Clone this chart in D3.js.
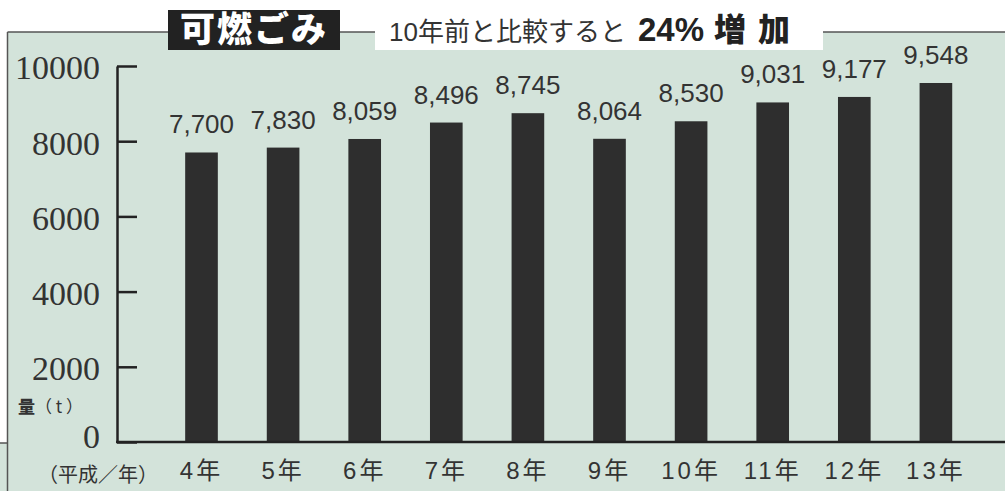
<!DOCTYPE html>
<html>
<head>
<meta charset="utf-8">
<script src="https://cdn.jsdelivr.net/npm/d3@7"></script>
<style>
  body { margin: 0; background: #fff; }
  svg { display: block; }
</style>
</head>
<body>
<div id="chart"></div>
<script>
// data
let years = ["4年", "5年", "6年", "7年", "8年", "9年", "10年", "11年", "12年", "13年"];
let amounts = [7700, 7830, 8059, 8496, 8745, 8064, 8530, 9031, 9177, 9548];
let yTicks = [0, 2000, 4000, 6000, 8000, 10000];

let w = 1005;
let h = 491;
let green = "#d3e3da";
let lineCol = "#555";
let gothic = "'Liberation Sans', 'Noto Sans CJK JP', sans-serif";
let cjk = "'Noto Sans CJK JP', sans-serif";

let svg = d3.select("#chart")
  .append("svg")
    .attr("width", w)
    .attr("height", h);

// backgrounds
svg.append("rect").attr("x", 0).attr("y", 0).attr("width", w).attr("height", h).attr("fill", "#fff");
svg.append("rect").attr("x", 7.5).attr("y", 32).attr("width", w).attr("height", h).attr("fill", green);
svg.append("rect").attr("x", 0).attr("y", 443).attr("width", 8).attr("height", 60).attr("fill", green);

// frame lines
let frame = [
  [7.5, 32, 168, 32],
  [340, 32, 375, 32],
  [823, 32, w, 32],
  [7.5, 32, 7.5, h],
  [0, 443, 7.5, 443]
];
svg.selectAll(".frame").data(frame).enter()
  .append("line")
    .attr("x1", d => d[0]).attr("y1", d => d[1])
    .attr("x2", d => d[2]).attr("y2", d => d[3])
    .attr("stroke", lineCol)
    .attr("stroke-width", 1.5);

// title boxes
svg.append("rect").attr("x", 375).attr("y", 0).attr("width", 448).attr("height", 50).attr("fill", "#fff");
svg.append("rect").attr("x", 168).attr("y", 10).attr("width", 172).attr("height", 40).attr("fill", "#222");

svg.append("text")
  .attr("x", 254).attr("y", 42)
  .attr("text-anchor", "middle")
  .style("font-family", cjk)
  .style("font-weight", 900)
  .style("font-size", "35px")
  .style("letter-spacing", "2px")
  .attr("fill", "#fff")
  .text("可燃ごみ");

let sub = svg.append("text")
  .attr("x", 389).attr("y", 41)
  .attr("fill", "#333");
sub.append("tspan")
  .style("font-family", gothic)
  .style("font-size", "26px")
  .text("10年前と比較すると");
sub.append("tspan")
  .attr("dx", 12)
  .style("font-family", "'Liberation Sans', sans-serif")
  .style("font-size", "33px")
  .style("font-weight", 700)
  .attr("fill", "#222")
  .text("24%");
sub.append("tspan")
  .attr("dx", 10)
  .style("font-family", cjk)
  .style("font-size", "32px")
  .style("font-weight", 900)
  .style("letter-spacing", "12px")
  .attr("fill", "#222")
  .text("増加");

// scales
let x = d3.scaleBand()
  .domain(years)
  .range([160.7, 976.7])
  .paddingInner(0.6)
  .paddingOuter(0.3);

let y = d3.scaleLinear()
  .domain([0, 10000])
  .range([442, 66]);

// bars
svg.selectAll(".bar").data(amounts).enter()
  .append("rect")
    .attr("x", (d, i) => x(years[i]))
    .attr("y", d => y(d))
    .attr("width", x.bandwidth())
    .attr("height", d => y(0) - y(d))
    .attr("fill", "#2e2e2e");

// value labels
svg.selectAll(".val").data(amounts).enter()
  .append("text")
    .attr("x", (d, i) => x(years[i]) + x.bandwidth() / 2)
    .attr("y", d => y(d) - 19)
    .attr("text-anchor", "middle")
    .style("font-family", gothic)
    .style("font-size", "26px")
    .attr("fill", "#333")
    .text(d => d3.format(",")(d));

// y axis
let yAxis = svg.append("g")
  .attr("transform", "translate(117,0)")
  .call(d3.axisLeft(y).tickValues(yTicks).tickFormat(d3.format("d"))
    .tickSize(-20).tickSizeOuter(0).tickPadding(17));
yAxis.select(".domain").attr("stroke", "#222").attr("stroke-width", 2.5);
yAxis.selectAll(".tick line").attr("stroke", "#222").attr("stroke-width", 2.5);
yAxis.selectAll(".tick text")
  .attr("dy", d => d === 0 ? "0.15em" : "0.38em")
  .style("font-family", "'Liberation Serif', serif")
  .style("font-size", "34px")
  .attr("fill", "#333");

// baseline
svg.append("line")
  .attr("x1", 116).attr("x2", w)
  .attr("y1", y(0)).attr("y2", y(0))
  .attr("stroke", "#222")
  .attr("stroke-width", 2.5);

// x axis labels
let xAxis = svg.append("g")
  .attr("transform", "translate(0," + y(0) + ")")
  .call(d3.axisBottom(x).tickSize(0).tickPadding(20));
xAxis.select(".domain").remove();
xAxis.selectAll(".tick text")
  .style("font-family", gothic)
  .style("font-size", "24px")
  .style("letter-spacing", "3px")
  .attr("fill", "#333");

svg.append("text")
  .attr("x", 98).attr("y", 482)
  .attr("text-anchor", "middle")
  .style("font-family", cjk)
  .style("font-size", "20px")
  .attr("fill", "#333")
  .text("（平成／年）");

svg.append("text")
  .attr("x", 18).attr("y", 413)
  .style("font-family", cjk)
  .style("font-size", "17px")
  .attr("fill", "#333")
  .html("<tspan style='font-weight:900'>量</tspan>（ t ）");
</script>
</body>
</html>
